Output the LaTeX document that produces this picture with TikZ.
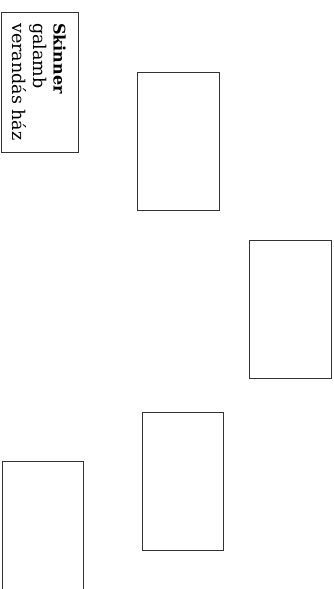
\documentclass[tikz,border=0pt]{standalone}
\usepackage{fontspec}
\setmainfont{DejaVu Serif}
\usetikzlibrary{positioning}

\begin{document}
\begin{tikzpicture}[
  x=1pt, y=-1pt,
  frame/.style={draw=black!80, line width=1pt, inner sep=0pt, anchor=north west, minimum width=82pt, minimum height=138pt},
  keytext/.style={rotate=-90, anchor=north west, align=left, inner sep=0pt, font=\fontsize{17.5}{20.5}\selectfont}
]
\useasboundingbox (0,0) rectangle (334,589);
\clip (0,0) rectangle (334,589);
\node[frame, minimum width=77pt, minimum height=140pt] (key) at (1,12) {};
\node[keytext] (keylabel) at ([shift={(-13,11)}]key.north east) {{\fontsize{16}{20.5}\selectfont\bfseries Skinner}\\galamb\\verandás ház};
\node[frame] (boxa) at (137,72) {};
\node[frame] (boxb) at (249,240) {};
\node[frame, minimum width=81pt] (boxc) at (142,412) {};
\node[frame, minimum width=81pt, minimum height=160pt] (boxd) at (2,461) {};
\end{tikzpicture}
\end{document}
